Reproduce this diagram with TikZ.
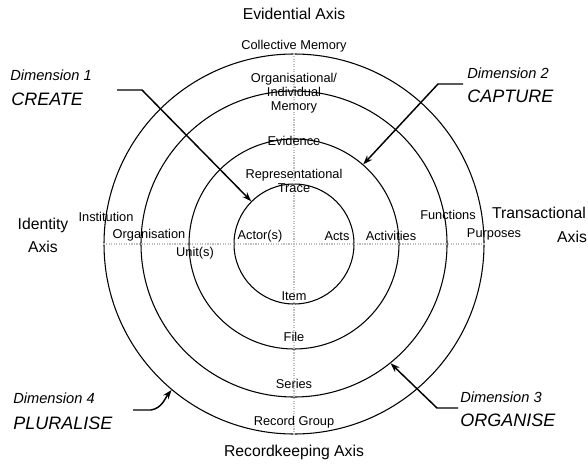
\documentclass[tikz,border=0pt]{standalone}
\usepackage{fontspec}
\setmainfont{Liberation Sans}
\usetikzlibrary{arrows.meta}
\begin{document}
\begin{tikzpicture}[x=0.75pt,y=-0.75pt,
  ring/.style={draw,circle,inner sep=0pt,line width=0.8pt},
  axisline/.style={gray!50,densely dotted,line width=0.9pt},
  lbl/.style={font=\fontsize{9.6}{10.5}\selectfont,align=center,inner sep=0.5pt},
  axislbl/.style={font=\fontsize{11.8}{13}\selectfont,align=center,inner sep=0pt},
  dimlbl/.style={font=\fontsize{11}{12}\selectfont\itshape,anchor=west,inner sep=0pt},
  dimname/.style={font=\fontsize{13.5}{15}\selectfont\itshape,anchor=west,inner sep=0pt},
  pointer/.style={line width=1.1pt,-{Stealth[length=7pt,width=5pt]}}]
\useasboundingbox (0,0) rectangle (588,464);

% concentric rings
\coordinate (o) at (294,244);
\node[ring,minimum size=90pt]    (c1) at (o) {};
\node[ring,minimum size=157.5pt] (c2) at (o) {};
\node[ring,minimum size=229.5pt] (c3) at (o) {};
\node[ring,minimum size=285pt]   (c4) at (o) {};

% the two axes
\draw[axisline] (c4.west) -- (c4.east);
\draw[axisline] (c4.north) -- (c4.south);

% axis titles
\node[axislbl] (evid) at (294,14) {Evidential Axis};
\node[axislbl] (rec)  at (294,452) {Recordkeeping Axis};
\node[axislbl] (ida)  at (43,225) {Identity};
\node[axislbl] (idb)  at (43,247) {Axis};
\node[axislbl] (tra)  at (539,213) {Transactional};
\node[axislbl] (trb)  at (572,237) {Axis};

% evidential axis labels
\node[lbl] (cm)  at (294,46)  {Collective Memory};
\node[lbl] (oim) at (294,93)  {Organisational/\\Individual\\Memory};
\node[lbl] (ev)  at (294,141) {Evidence};
\node[lbl] (rt)  at (294,180.5) {Representational\\Trace};

% recordkeeping axis labels
\node[lbl] (item) at (294,296) {Item};
\node[lbl] (file) at (294,337) {File};
\node[lbl] (ser)  at (294,384) {Series};
\node[lbl] (rg)   at (294,422) {Record Group};

% identity axis labels
\node[lbl] (act)  at (260,236) {Actor(s)};
\node[lbl] (unit) at (195,253) {Unit(s)};
\node[lbl] (org)  at (149,235) {Organisation};
\node[lbl] (inst) at (106,217) {Institution};

% transactional axis labels
\node[lbl] (acts) at (337,236) {Acts};
\node[lbl] (actv) at (391,236) {Activities};
\node[lbl] (fun)  at (448,215) {Functions};
\node[lbl] (pur)  at (494,234) {Purposes};

% dimensions
\node[dimlbl]  (d1)  at (10,75)  {Dimension 1};
\node[dimname] (d1n) at (11,99)  {CREATE};
\node[dimlbl]  (d2)  at (467,73) {Dimension 2};
\node[dimname] (d2n) at (467,96) {CAPTURE};
\node[dimlbl]  (d3)  at (460,397) {Dimension 3};
\node[dimname] (d3n) at (460,420) {ORGANISE};
\node[dimlbl]  (d4)  at (13,398) {Dimension 4};
\node[dimname] (d4n) at (13,423) {PLURALISE};

% pointers from each dimension to its ring
\coordinate (p1s) at (117,90);  \coordinate (p1b) at (142,90);
\coordinate (p2s) at (463,84);  \coordinate (p2b) at (438,84);
\coordinate (p3s) at (458,408); \coordinate (p3b) at (437,408);
\coordinate (p4s) at (133,410); \coordinate (p4b) at (151,410);
\draw[pointer] (p1s) -- (p1b) -- (c1.135);
\draw[pointer] (p2s) -- (p2b) -- (c2.49);
\draw[pointer] (p3s) -- (p3b) -- (c3.-51);
\draw[pointer] (p4s) -- (p4b) to[out=10,in=232] (c4.230);
\end{tikzpicture}
\end{document}
